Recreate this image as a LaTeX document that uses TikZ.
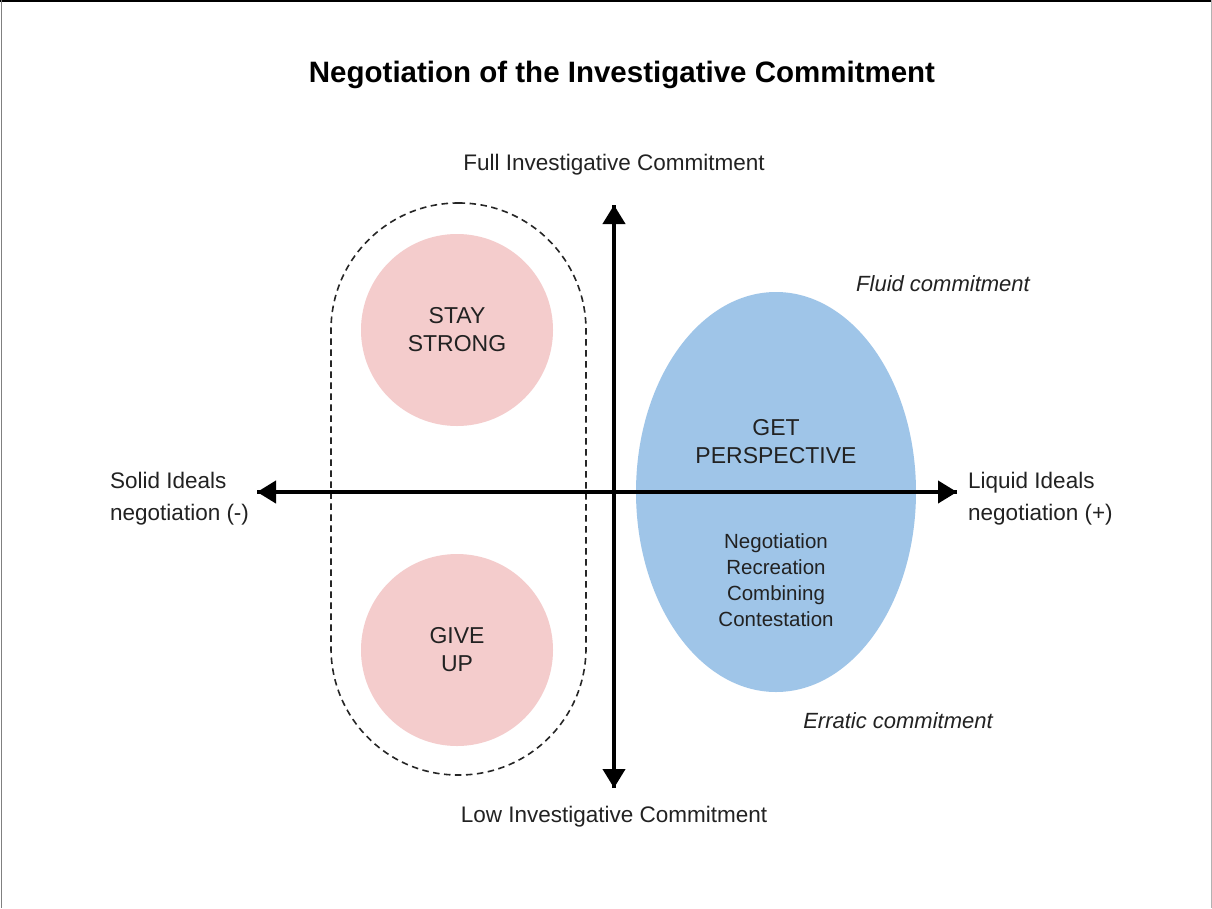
\documentclass[tikz,border=0pt]{standalone}
\usepackage{fontspec}
\setmainfont{Liberation Sans}
\usetikzlibrary{arrows.meta,shapes.geometric}
\definecolor{pinkfill}{HTML}{F4CCCC}
\definecolor{bluefill}{HTML}{9FC5E8}
\definecolor{txt}{HTML}{222222}
\begin{document}
\begin{tikzpicture}[x=1pt,y=-1pt,
  lab/.style={text=txt,font=\fontsize{22.5}{32}\selectfont,inner sep=0pt},
  caps/.style={text=txt,font=\fontsize{23}{28}\selectfont,align=center,inner sep=0pt},
  axis/.style={line width=4pt,-{Triangle[width=22pt,length=19pt]}},
  bubble/.style={circle,fill=pinkfill,minimum size=192pt,inner sep=0pt}]
\useasboundingbox (0,0) rectangle (1212,908);
\fill[white] (0,0) rectangle (1212,908);
\draw[black,line width=1.5pt] (0,0.75) -- (1212,0.75);
\draw[gray,line width=1.5pt] (1.5,0) -- (1.5,908);
\draw[gray!60,line width=1pt] (1211,0) -- (1211,908);

\node[text=black,font=\bfseries\fontsize{29.5}{34}\selectfont,inner sep=0pt] (title) at (622,75) {Negotiation of the Investigative Commitment};

\node[draw=black!85,dash pattern=on 6.5pt off 4.5pt,line width=1.6pt,rounded corners=127pt,minimum width=255pt,minimum height=572pt,inner sep=0pt] (group) at (458.5,489) {};
\node[bubble] (stay) at (457,330) {};
\node[caps] at (stay) {STAY\\STRONG};
\node[bubble] (give) at (457,650) {};
\node[caps] at (give) {GIVE\\UP};

\node[ellipse,fill=bluefill,minimum width=280pt,minimum height=400pt,inner sep=0pt] (get) at (776,492) {};
\node[caps] (gettext) at (776,442) {GET\\PERSPECTIVE};
\node[text=txt,font=\fontsize{20.5}{26}\selectfont,align=center,inner sep=0pt] (list) at (776,580) {Negotiation\\Recreation\\Combining\\Contestation};

\coordinate (top) at (614,205);
\coordinate (bot) at (614,788);
\coordinate (left) at (257,492);
\coordinate (right) at (957,492);
\draw[axis] (bot) -- (top);
\draw[axis] (top) -- (bot);
\draw[axis] (right) -- (left);
\draw[axis] (left) -- (right);

\node[lab] (full) at (614,165) {Full Investigative Commitment};
\node[lab] (low) at (614,817) {Low Investigative Commitment};
\node[lab,align=left,anchor=west] (solid) at (110,499) {Solid Ideals\\negotiation (-)};
\node[lab,align=left,anchor=west] (liquid) at (968,499) {Liquid Ideals\\negotiation (+)};
\node[lab,font=\itshape\fontsize{22}{26}\selectfont] (fluid) at (943,284) {Fluid commitment};
\node[lab,font=\itshape\fontsize{22}{26}\selectfont] (erratic) at (898,721) {Erratic commitment};
\end{tikzpicture}
\end{document}
